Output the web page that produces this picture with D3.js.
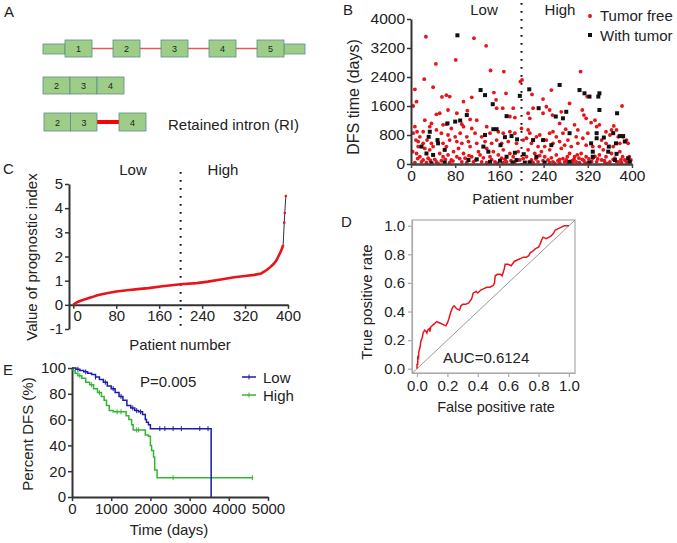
<!DOCTYPE html>
<html><head><meta charset="utf-8">
<script src="https://cdn.jsdelivr.net/npm/d3@7"></script>
<style>body{margin:0;background:#fff}svg{display:block}</style>
</head><body>
<svg id="c" width="677" height="543"></svg>
<script>
// ---------- DATA ----------
const geneExons = ["1","2","3","4","5"];
const isoform1 = ["2","3","4"];
const isoform2 = ["2","3","4"];
const riLabel = "Retained intron (RI)";

const bXTicks = [0,80,160,240,320,400];
const bYTicks = [0,800,1600,2400,3200,4000];
const groupLabels = ["Low","High"];
const legendB = ["Tumor free","With tumor"];
const withTumor = [[84,3550],[126,2040],[134,1900],[148,1650],[173,1320],[101,1350],[89,1200],[80,1170],[66,1120],[48,660],[49,570],[34,890],[32,750],[19,480],[28,290],[40,250],[37,20],[61,390],[61,40],[131,480],[140,340],[134,800],[149,960],[155,960],[162,520],[170,740],[182,770],[192,680],[188,310],[191,110],[184,40],[119,130],[104,110],[143,60],[161,90],[173,200],[197,1880],[214,2060],[204,270],[206,40],[221,660],[231,1540],[239,660],[254,520],[262,1310],[269,2180],[275,1260],[281,1440],[287,850],[305,2040],[314,1950],[323,1860],[326,570],[329,340],[329,200],[336,850],[339,1860],[341,1950],[341,1490],[336,710],[349,730],[358,480],[366,850],[371,570],[373,1400],[378,770],[384,770],[387,620],[372,280],[369,110],[393,160],[396,60],[357,340],[323,40],[287,60],[242,40],[215,40],[227,200]];
const tumorFree = [[27,3510],[114,3470],[136,3260],[81,2870],[45,2760],[144,2580],[168,2550],[307,2550],[24,2340],[198,2270],[201,2320],[7,2060],[40,2120],[254,2040],[172,1950],[239,1790],[219,1920],[150,1970],[70,1860],[56,1850],[64,1900],[319,1860],[4,1600],[10,1720],[95,1720],[110,1840],[155,1540],[166,1540],[185,1540],[154,1770],[212,1400],[221,1540],[245,1580],[251,1490],[256,1350],[272,1440],[287,1670],[310,1490],[313,1350],[317,1260],[333,1210],[382,1600],[67,1490],[46,1370],[52,1400],[25,1210],[37,1120],[64,1100],[92,1100],[107,1230],[119,1210],[102,1470],[83,1400],[179,1310],[188,1280],[215,1260],[239,1400],[269,1120],[280,960],[296,1080],[326,1140],[341,1080],[353,890],[367,1050],[363,940],
[7,1030],[11,890],[4,850],[16,750],[9,660],[13,480],[22,570],[29,660],[34,1030],[46,940],[55,850],[58,1080],[73,980],[80,750],[89,850],[95,1030],[110,980],[101,750],[116,850],[128,750],[143,850],[158,890],[167,850],[179,890],[188,850],[200,980],[209,710],[215,850],[227,750],[233,800],[245,660],[251,850],[263,750],[275,850],[284,660],[299,750],[311,710],[320,850],[336,1030],[345,660],[360,800],[375,750],[384,750],[390,660],[393,570],
[3,340],[10,290],[16,200],[22,110],[31,160],[34,390],[40,480],[43,130],[52,290],[55,90],[58,200],[64,480],[67,250],[73,110],[77,340],[83,200],[86,430],[92,60],[95,290],[98,160],[107,480],[110,200],[113,60],[122,340],[125,250],[128,60],[137,430],[143,200],[149,340],[152,60],[158,250],[164,160],[167,390],[173,60],[179,290],[185,200],[194,340],[197,110],[209,200],[212,390],[218,110],[224,290],[230,60],[236,340],[242,200],[248,110],[251,390],[257,60],[263,250],[269,130],[272,430],[278,60],[283,200],[287,290],[292,90],[296,200],[299,60],[304,160],[308,290],[313,90],[317,200],[320,40],[329,160],[336,60],[341,250],[345,110],[348,390],[353,200],[360,60],[363,290],[369,160],[375,60],[378,340],[383,200],[387,110],[391,40],[395,200],[398,110],
[7,40],[28,40],[46,55],[70,40],[101,40],[137,40],[167,40],[188,55],[221,40],[251,40],[269,40],[284,40],[293,55],[305,40],[351,40],[381,40],
[13,620],[25,430],[37,570],[58,570],[70,660],[83,620],[92,570],[104,620],[119,570],[134,620],[146,570],[155,660],[164,570],[176,620],[191,570],[203,660],[218,570],[230,480],[242,480],[257,570],[269,620],[278,520],[290,480],[302,570],[317,520],[329,480],[341,480],[353,570],[366,480],[378,570],[22,890],[67,800],[137,1030],[212,940],[257,890],[302,940],[372,940],
[12,150],[19,60],[35,100],[49,20],[62,130],[76,80],[88,150],[105,230],[117,100],[131,170],[146,120],[156,20],[170,130],[181,90],[203,150],[214,60],[226,140],[233,230],[239,90],[254,170],[260,20],[266,90],[275,150],[281,110],[289,20],[295,130],[301,250],[310,130],[315,20],[322,140],[327,70],[333,210],[338,140],[350,90],[356,20],[366,130],[372,60],[380,120],[389,80],[393,30]];

const cXTicks = [0,80,160,240,320,400];
const cYTicks = [-1,0,1,2,3,4,5];
const progIndex = [[0,0],[3,0.05],[8,0.12],[15,0.18],[25,0.25],[35,0.32],[45,0.4],[60,0.47],[80,0.55],[100,0.6],[120,0.65],[140,0.69],[166,0.77],[200,0.85],[230,0.9],[251,0.96],[275,1.05],[300,1.14],[320,1.19],[337,1.24],[350,1.3],[361,1.45],[368,1.58],[373,1.69],[378,1.82],[382,2.0],[386,2.18],[389,2.34],[391,2.48]];
const progTop = [[391,2.48],[393,3.4],[394,3.8],[396,4.5]];

const dTicks = [0,0.2,0.4,0.6,0.8,1.0];
const rocPoints = [[0,0],[0,0.03],[0.005,0.03],[0.005,0.09],[0.01,0.08],[0.012,0.12],[0.02,0.15],[0.025,0.19],[0.035,0.22],[0.04,0.25],[0.05,0.27],[0.06,0.26],[0.065,0.25],[0.07,0.27],[0.08,0.28],[0.085,0.26],[0.09,0.29],[0.1,0.3],[0.11,0.31],[0.12,0.32],[0.13,0.33],[0.15,0.32],[0.17,0.31],[0.19,0.30],[0.2,0.32],[0.21,0.35],[0.22,0.39],[0.235,0.43],[0.245,0.44],[0.26,0.42],[0.28,0.41],[0.29,0.44],[0.3,0.45],[0.32,0.45],[0.34,0.46],[0.36,0.49],[0.37,0.53],[0.39,0.54],[0.4,0.53],[0.42,0.55],[0.44,0.56],[0.46,0.57],[0.48,0.57],[0.5,0.58],[0.51,0.6],[0.515,0.65],[0.53,0.66],[0.55,0.66],[0.56,0.65],[0.575,0.7],[0.58,0.73],[0.6,0.73],[0.62,0.72],[0.64,0.75],[0.66,0.76],[0.68,0.77],[0.7,0.78],[0.72,0.78],[0.735,0.79],[0.745,0.81],[0.76,0.82],[0.78,0.84],[0.8,0.85],[0.81,0.87],[0.82,0.9],[0.83,0.92],[0.85,0.91],[0.87,0.92],[0.885,0.93],[0.9,0.95],[0.91,0.97],[0.93,0.98],[0.95,0.99],[0.97,1.0],[0.99,1.0],[1.0,1.0]];
const aucLabel = "AUC=0.6124";

const eXTicks = [0,1000,2000,3000,4000,5000];
const eYTicks = [0,20,40,60,80,100];
const kmLow = [[0,100],[100,99],[200,98],[300,97],[400,96],[500,95],[600,93],[700,91],[800,89],[900,86],[1000,84],[1100,81],[1200,78],[1300,75],[1400,71],[1500,69],[1600,67],[1700,66],[1800,64],[1870,60],[1900,58],[1950,56],[2000,53],[3550,0]];
const kmHigh = [[0,100],[30,98],[80,96],[150,94],[250,92],[350,89],[450,87],[550,84],[650,81],[750,78],[820,75],[880,71],[950,67],[1050,66],[1300,66],[1380,63],[1450,60],[1520,56],[1560,52],[1800,52],[1870,48],[1950,47],[2000,40],[2030,36],[2080,31],[2110,21],[2170,15],[4620,15]];
const lowCensor = [150,350,600,850,1050,1250,1550,1650,1750,2240,2370,2580,2790,3260,3470];
const highCensor = [200,500,700,1150,1250,1650,1700,2580,4600];
const pLabel = "P=0.005";
const legendE = ["Low","High"];

// ---------- DRAW ----------
const FONT = "'Liberation Sans', Arial, sans-serif";
const svg = d3.select("#c").style("font-family", FONT);
svg.append("rect").attr("width",677).attr("height",543).attr("fill","#fff");
const intFmt = d => String(d);

function txt(x,y,s,opt={}){
  const t = svg.append("text").attr("x",x).attr("y",y).text(s)
    .attr("font-size",opt.size||15).attr("fill",opt.fill||"#222")
    .attr("text-anchor",opt.anchor||"start");
  if(opt.rot){ t.attr("x",0).attr("y",0).attr("dy","0.35em").attr("transform",`translate(${x},${y}) rotate(-90)`); }
  return t;
}
function styleAxis(g, col, w, tw, size){
  g.select(".domain").attr("stroke",col).attr("stroke-width",w);
  g.selectAll(".tick line").attr("stroke",col).attr("stroke-width",tw);
  g.selectAll(".tick text").attr("font-size",size||15).attr("font-family",FONT).attr("fill","#222");
}

// Panel labels
txt(4,17,"A"); txt(343,15,"B"); txt(3,174,"C"); txt(341,227,"D"); txt(3,375,"E");

// ---- Panel A ----
const exonFill="#9dcd86", exonStroke="#5d8c8c", intronCol="#e8585a";
const ex = d3.scaleLinear().domain([1,2]).range([65,113]);
const exW = 27;
svg.append("line").attr("x1",ex(1)).attr("x2",ex(5)).attr("y1",48.5).attr("y2",48.5).attr("stroke",intronCol).attr("stroke-width",1.5);
svg.append("rect").attr("x",43).attr("y",44).attr("width",ex(1)-43).attr("height",10).attr("fill",exonFill).attr("stroke",exonStroke).attr("stroke-width",0.8);
svg.append("rect").attr("x",ex(5)+exW).attr("y",44).attr("width",21).attr("height",10).attr("fill",exonFill).attr("stroke",exonStroke).attr("stroke-width",0.8);
geneExons.forEach((e,i)=>{
  svg.append("rect").attr("x",ex(i+1)).attr("y",40).attr("width",exW).attr("height",17).attr("fill",exonFill).attr("stroke",exonStroke).attr("stroke-width",0.8);
  txt(ex(i+1)+exW/2,52,e,{size:9,anchor:"middle",fill:"#222"});
});
isoform1.forEach((e,i)=>{
  svg.append("rect").attr("x",43+i*exW).attr("y",77).attr("width",exW).attr("height",17).attr("fill",exonFill).attr("stroke",exonStroke).attr("stroke-width",0.8);
  txt(43+i*exW+exW/2,89,e,{size:9,anchor:"middle"});
});
svg.append("line").attr("x1",97).attr("x2",119).attr("y1",122).attr("y2",122).attr("stroke","#f00").attr("stroke-width",4);
isoform2.forEach((e,i)=>{
  const x0 = i<2 ? 44+i*26.5 : 119;
  svg.append("rect").attr("x",x0).attr("y",113).attr("width",i<2?26.5:27).attr("height",18).attr("fill",exonFill).attr("stroke",exonStroke).attr("stroke-width",0.8);
  txt(x0+13.5,126,e,{size:9,anchor:"middle"});
});
txt(168,130,riLabel,{size:15});

// ---- Panel B ----
const bx = d3.scaleLinear().domain([0,400]).range([411,632]);
const by = d3.scaleLinear().domain([0,4000]).range([164,19]);
svg.append("line").attr("x1",bx(200)).attr("x2",bx(200)).attr("y1",3).attr("y2",185)
  .attr("stroke","#111").attr("stroke-width",2).attr("stroke-dasharray","1.8,6.2");
svg.append("g").selectAll("circle").data(tumorFree).join("circle")
  .attr("cx",d=>bx(d[0])).attr("cy",d=>by(d[1])).attr("r",1.9).attr("fill","#e8141b");
svg.append("g").selectAll("rect").data(withTumor).join("rect")
  .attr("x",d=>bx(d[0])-2).attr("y",d=>by(d[1])-2).attr("width",4).attr("height",4).attr("fill","#111");
const bya = svg.append("g").attr("transform","translate(411,0)").call(d3.axisLeft(by).tickValues(bYTicks).tickFormat(intFmt).tickSize(4).tickSizeOuter(0).tickPadding(2));
styleAxis(bya,"#333",2,1.5,15.5);
const bxa = svg.append("g").attr("transform","translate(0,164)").call(d3.axisBottom(bx).tickValues(bXTicks).tickFormat(intFmt).tickSize(4).tickSizeOuter(0).tickPadding(2));
styleAxis(bxa,"#444",2.5,1.5,15.5);
txt(484,15,groupLabels[0],{anchor:"middle"});
txt(560,15,groupLabels[1],{anchor:"middle"});
svg.append("circle").attr("cx",590).attr("cy",16).attr("r",2).attr("fill","#e8141b");
txt(600,21,legendB[0]);
svg.append("rect").attr("x",588).attr("y",33).attr("width",4).attr("height",4).attr("fill","#111");
txt(600,41,legendB[1]);
txt(353,97,"DFS time (days)",{anchor:"middle",rot:true,size:16});
txt(523,199,"Patient number",{anchor:"middle",size:15}).attr("dy","0.35em");

// ---- Panel C ----
const cx = d3.scaleLinear().domain([-8,400]).range([69,288]);
const cy = d3.scaleLinear().domain([-1,5]).range([329,184]);
svg.append("line").attr("x1",cx(200)).attr("x2",cx(200)).attr("y1",172).attr("y2",326)
  .attr("stroke","#111").attr("stroke-width",2).attr("stroke-dasharray","1.8,6.2");
const cya = svg.append("g").attr("transform","translate(69,0)").call(d3.axisLeft(cy).tickValues(cYTicks).tickFormat(intFmt).tickSize(4).tickSizeOuter(0).tickPadding(2));
styleAxis(cya,"#333",2,1.5,15);
const cxa = svg.append("g").attr("transform",`translate(0,${cy(0)})`).call(d3.axisBottom(cx).tickValues(cXTicks).tickFormat(intFmt).tickSize(4).tickSizeOuter(0).tickPadding(2));
styleAxis(cxa,"#333",2,1.5,15);
cxa.selectAll(".tick text").filter(d=>d===0).attr("dx",4);
const cline = d3.line().x(d=>cx(d[0])).y(d=>cy(d[1]));
svg.append("path").attr("d",cline(progIndex)).attr("fill","none").attr("stroke","#e8141b").attr("stroke-width",2.6);
svg.append("path").attr("d",cline(progTop)).attr("fill","none").attr("stroke","#333").attr("stroke-width",1);
svg.append("g").selectAll("circle").data(progTop.slice(1)).join("circle")
  .attr("cx",d=>cx(d[0])).attr("cy",d=>cy(d[1])).attr("r",1.3).attr("fill","#e8141b");
txt(133,175,groupLabels[0],{anchor:"middle"});
txt(223,175,groupLabels[1],{anchor:"middle"});
txt(32,257,"Value of prognostic index",{anchor:"middle",rot:true,size:15});
txt(180,345,"Patient number",{anchor:"middle",size:15}).attr("dy","0.35em");

// ---- Panel D ----
const dx = d3.scaleLinear().domain([-0.033,1.04]).range([412,575]);
const dy = d3.scaleLinear().domain([-0.03,1.04]).range([373,220]);
svg.append("rect").attr("x",412).attr("y",220).attr("width",163).attr("height",153).attr("fill","none").attr("stroke","#aaa").attr("stroke-width",1.2);
const dya = svg.append("g").attr("transform","translate(412,0)").call(d3.axisLeft(dy).tickValues(dTicks).tickFormat(d3.format(".1f")).tickSize(4).tickSizeOuter(0).tickPadding(3));
styleAxis(dya,"#aaa",1.2,1.2,15);
const dxa = svg.append("g").attr("transform","translate(0,373)").call(d3.axisBottom(dx).tickValues(dTicks).tickFormat(d3.format(".1f")).tickSize(4).tickSizeOuter(0).tickPadding(3));
styleAxis(dxa,"#aaa",1.2,1.2,15);
svg.append("line").attr("x1",dx(-0.03)).attr("y1",dy(-0.03)).attr("x2",dx(1.04)).attr("y2",dy(1.04)).attr("stroke","#999").attr("stroke-width",1);
svg.append("path").attr("d",d3.line().x(d=>dx(d[0])).y(d=>dy(d[1]))(rocPoints)).attr("fill","none").attr("stroke","#e8141b").attr("stroke-width",1.5);
txt(443,363,aucLabel,{size:15});
txt(367,302,"True positive rate",{anchor:"middle",rot:true,size:15});
txt(496,407,"False positive rate",{anchor:"middle",size:14.5}).attr("dy","0.35em");

// ---- Panel E ----
const ex2 = d3.scaleLinear().domain([0,5000]).range([72,268]);
const ey = d3.scaleLinear().domain([0,100]).range([497,368]);
const eya = svg.append("g").attr("transform","translate(72,0)").call(d3.axisLeft(ey).tickValues(eYTicks).tickFormat(intFmt).tickSize(4).tickSizeOuter(0).tickPadding(2));
styleAxis(eya,"#333",2,1.5,15);
const exa = svg.append("g").attr("transform","translate(0,497)").call(d3.axisBottom(ex2).tickValues(eXTicks).tickFormat(intFmt).tickSize(4).tickSizeOuter(0).tickPadding(2));
styleAxis(exa,"#333",2,1.5,15);
const blue="#1c1ca6", green="#33b533";
const kmLine = d3.line().x(d=>ex2(d[0])).y(d=>ey(d[1])).curve(d3.curveStepAfter);
function kmVal(arr,t){ let v=arr[0][1]; for(const p of arr){ if(p[0]<=t) v=p[1]; } return v; }
[[kmHigh,highCensor,green],[kmLow,lowCensor,blue]].forEach(([arr,cens,col])=>{
  svg.append("path").attr("d",kmLine(arr)).attr("fill","none").attr("stroke",col).attr("stroke-width",1.5);
  svg.append("g").selectAll("line").data(cens).join("line")
    .attr("x1",d=>ex2(d)).attr("x2",d=>ex2(d)).attr("y1",d=>ey(kmVal(arr,d))-2.5).attr("y2",d=>ey(kmVal(arr,d))+2.5)
    .attr("stroke",col).attr("stroke-width",1);
});
txt(140,387,pLabel,{size:15});
[[blue,377],[green,395]].forEach(([col,yy],i)=>{
  svg.append("line").attr("x1",242).attr("x2",256).attr("y1",yy).attr("y2",yy).attr("stroke",col).attr("stroke-width",1.5);
  svg.append("line").attr("x1",249).attr("x2",249).attr("y1",yy-2.5).attr("y2",yy+2.5).attr("stroke",col).attr("stroke-width",1);
  txt(263,yy+5.5,legendE[i],{size:15});
});
txt(28,434,"Percent DFS (%)",{anchor:"middle",rot:true,size:15});
txt(169,530,"Time (days)",{anchor:"middle",size:15}).attr("dy","0.35em");
</script>
</body></html>
